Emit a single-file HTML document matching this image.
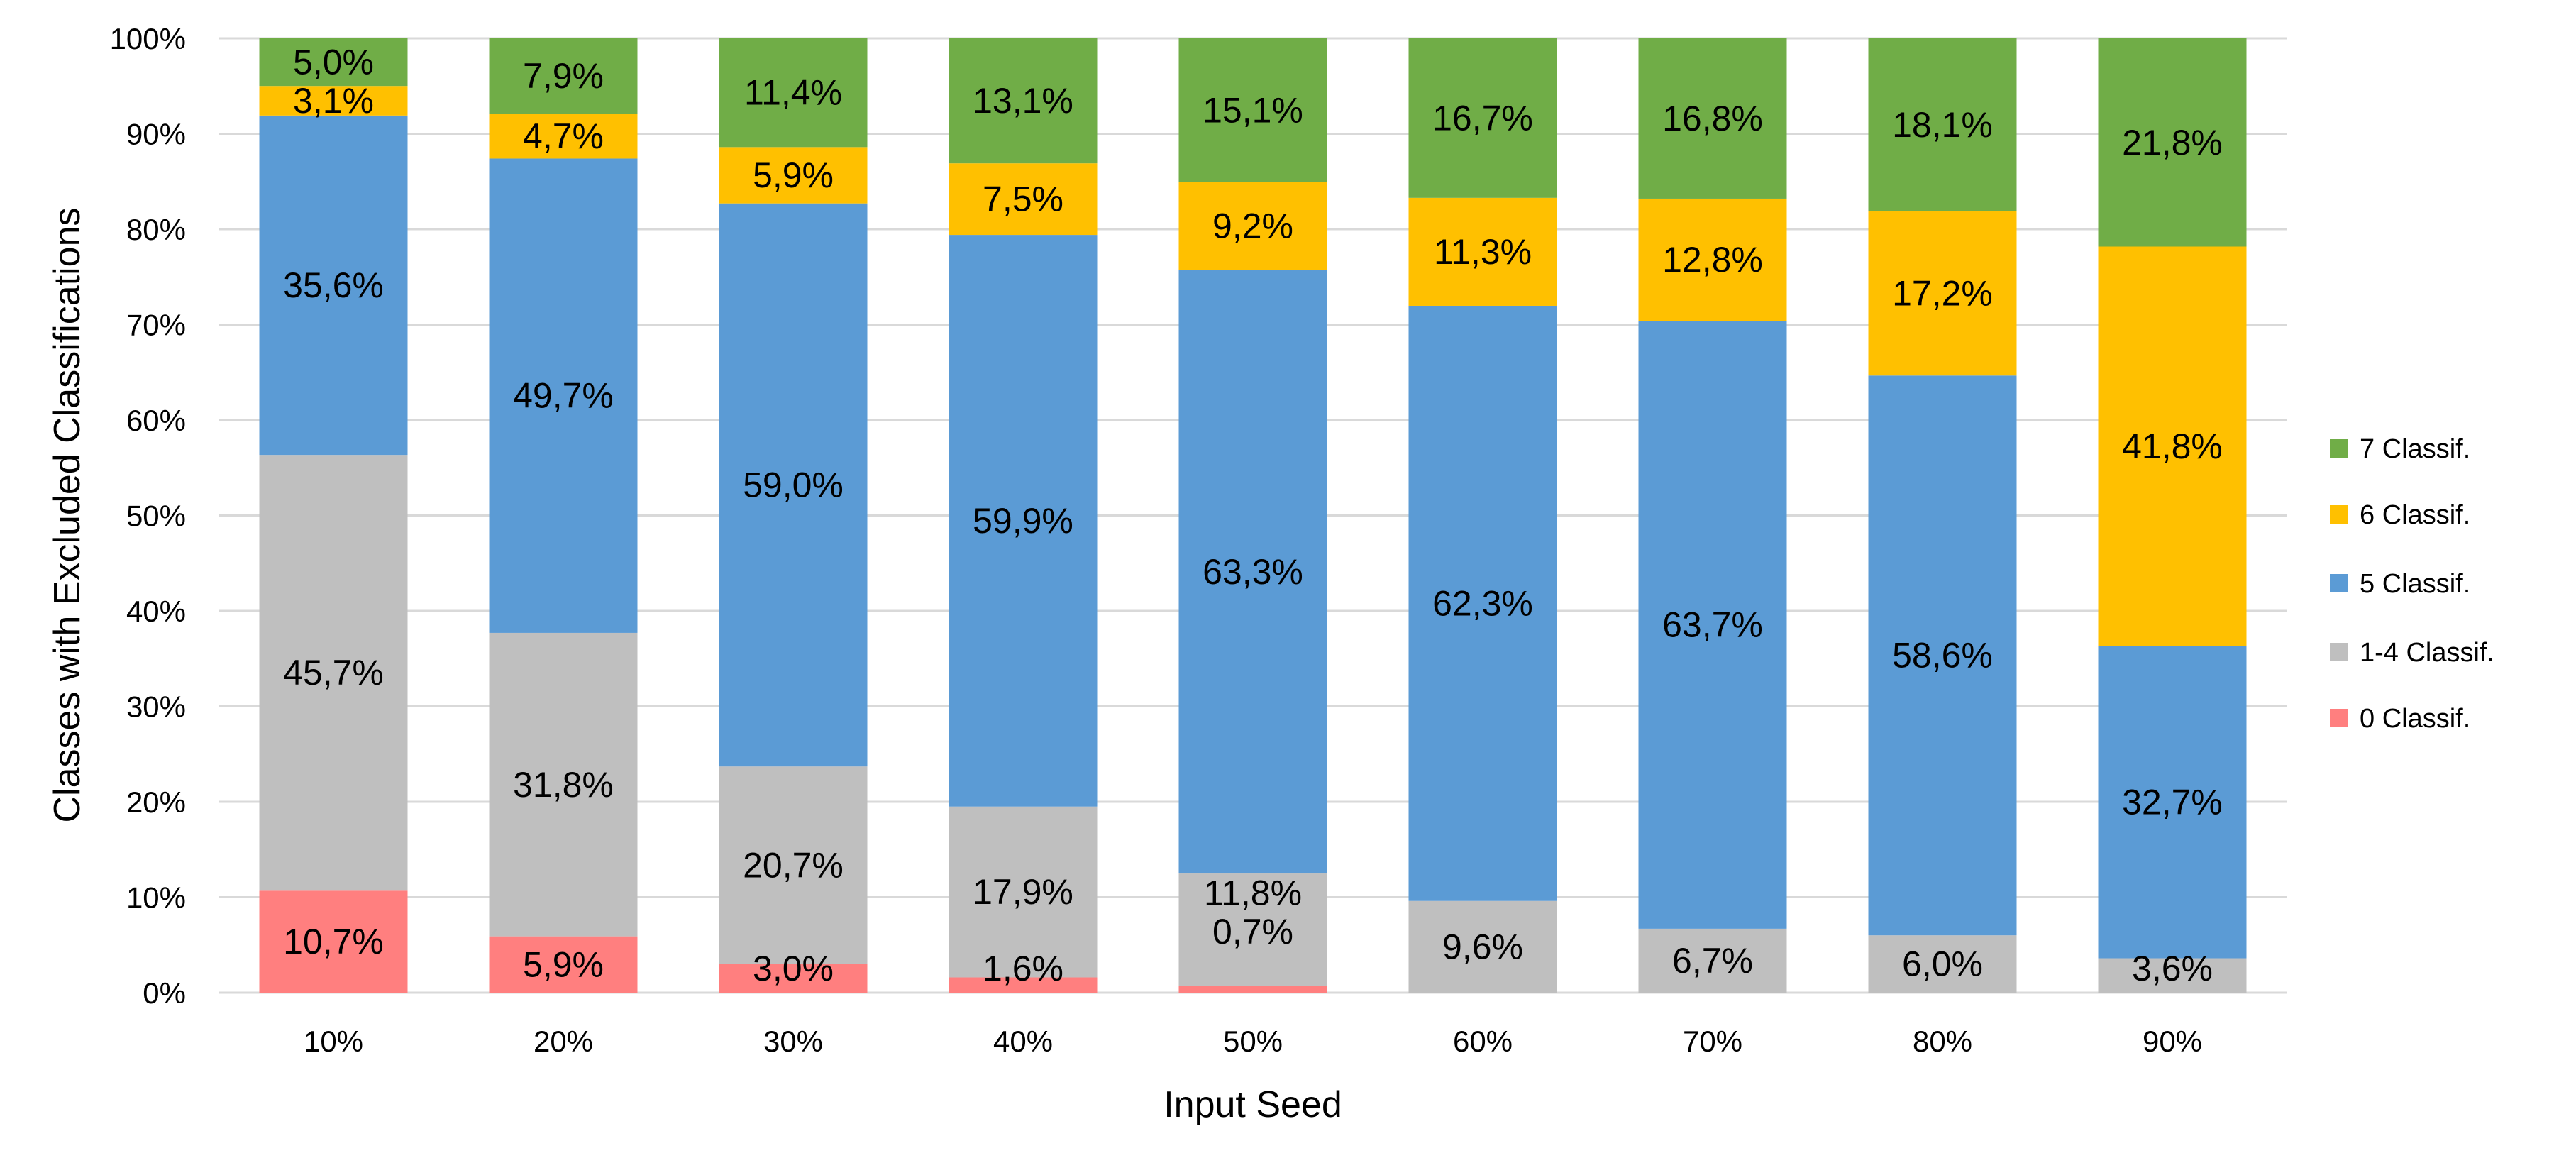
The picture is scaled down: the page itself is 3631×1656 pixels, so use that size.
<!DOCTYPE html>
<html><head><meta charset="utf-8"><style>
html,body{margin:0;padding:0;background:#fff;}
svg text{font-family:"Liberation Sans",sans-serif;fill:#000;}
</style></head><body>
<svg id="chart" width="3631" height="1651" xmlns="http://www.w3.org/2000/svg">
<g id="grid"></g>
<g id="yticks"></g>
<g id="bars"></g>
<g id="labels"></g>
<g id="xticks"></g>
<g id="legend"></g>
<text x="0" y="0" transform="translate(112,726) rotate(-90)" text-anchor="middle" font-size="52">Classes with Excluded Classifications</text>
<text x="1766" y="1574" text-anchor="middle" font-size="52">Input Seed</text>
</svg>
<script>
const categories = ["10%","20%","30%","40%","50%","60%","70%","80%","90%"];
const seriesNames = ["0 Classif.","1-4 Classif.","5 Classif.","6 Classif.","7 Classif."];
const s0 = [10.7,5.9,3.0,1.6,0.7,0,0,0,0];
const s14 = [45.7,31.8,20.7,17.9,11.8,9.6,6.7,6.0,3.6];
const s5 = [35.6,49.7,59.0,59.9,63.3,62.3,63.7,58.6,32.7];
const s6 = [3.1,4.7,5.9,7.5,9.2,11.3,12.8,17.2,41.8];
const s7 = [5.0,7.9,11.4,13.1,15.1,16.7,16.8,18.1,21.8];
const yTicks = [0,10,20,30,40,50,60,70,80,90,100];
const colors = ["#FF7F7F","#BFBFBF","#5B9BD5","#FFC000","#70AD47"];

const NS="http://www.w3.org/2000/svg";
const L=308,R=3224,T=54,B=1399;
const band=(R-L)/categories.length, bw=209;
const y=v=>B-(v/100)*(B-T);
const xc=i=>L+band*(i+0.5);
function mk(tag,attrs,parent){const e=document.createElementNS(NS,tag);for(const k in attrs)e.setAttribute(k,attrs[k]);parent.appendChild(e);return e;}
const grid=document.getElementById('grid'),yt=document.getElementById('yticks'),bars=document.getElementById('bars'),labels=document.getElementById('labels'),xt=document.getElementById('xticks'),lg=document.getElementById('legend');
yTicks.forEach(t=>{
  const ln=mk('line',{x1:L,x2:R,y1:y(t),y2:y(t),stroke:'#D9D9D9','stroke-width':3},grid);
  
  
  const tx=mk('text',{x:262,y:y(t)+15,'text-anchor':'end','font-size':42},yt);
  tx.textContent=t+'%';
  
  
});
const series=[s0,s14,s5,s6,s7];
categories.forEach((c,i)=>{
  let total=0;series.forEach(s=>total+=s[i]);
  let cum=0;
  series.forEach((s,k)=>{
    const v=s[i]/total*100;
    const y0=y(cum),y1=y(cum+v);
    const r=mk('rect',{x:xc(i)-bw/2,y:y1,width:bw,height:Math.max(0,y0-y1),fill:colors[k]},bars);
    
    
    if(s[i]>0){
      let cy=Math.min((y0+y1)/2, B-34);
      if(s[i]<1) cy=B-86;
      if(k>0 && series[k-1][i]>0 && series[k-1][i]<1) cy-=52;
      const t=mk('text',{x:xc(i),y:cy+17,'text-anchor':'middle','font-size':50},labels);
      t.textContent=s[i].toFixed(1).replace('.',',')+'%';
      
      
    }
    cum+=v;
  });
  const tx=mk('text',{x:xc(i),y:1482,'text-anchor':'middle','font-size':42},xt);
  tx.textContent=c;
  
  
});
const ly=[1012,919,822,725,632];
seriesNames.forEach((n,k)=>{
  const g=mk('g',{},lg);
  
  
  mk('rect',{x:3284,y:ly[k]-13,width:26,height:26,fill:colors[k]},g);
  const t=mk('text',{x:3326,y:ly[k]+13,'font-size':38},g);
  t.textContent=n;
});
</script>
</body></html>
